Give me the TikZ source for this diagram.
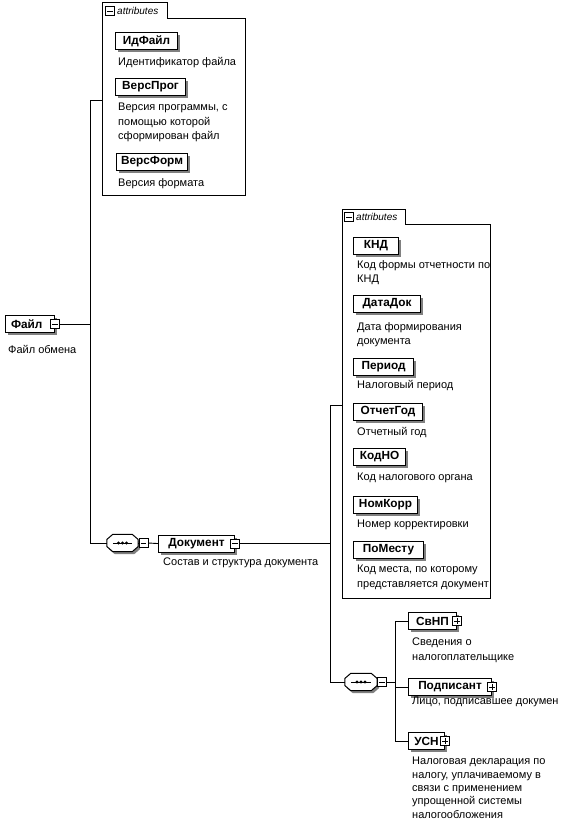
\documentclass[tikz,border=0pt]{standalone}
\usepackage{fontspec}
\setmainfont{Liberation Sans}
\usetikzlibrary{shadows}
\tikzset{
  elem/.style={draw, fill=white, line width=1.1pt,
    font=\fontsize{11.8}{13}\selectfont\bfseries,
    minimum height=17pt, inner xsep=4pt, inner ysep=0pt,
    anchor=north west,
    drop shadow={shadow xshift=2.5pt, shadow yshift=-2.5pt, fill=black!50, opacity=1}},
  desc/.style={font=\fontsize{11}{14.5}\selectfont, anchor=north west, align=left, inner sep=0pt},
  conn/.style={line width=0.9pt},
  boxline/.style={line width=1pt},
  pmbase/.style={draw, fill=white, line width=0.7pt, minimum size=9pt, inner sep=0pt},
  pmminus/.style={pmbase, path picture={\draw[line width=0.7pt]
      ([xshift=1.8pt]path picture bounding box.west) -- ([xshift=-1.8pt]path picture bounding box.east);}},
  pmplus/.style={pmbase, path picture={\draw[line width=0.7pt]
      ([xshift=1.8pt]path picture bounding box.west) -- ([xshift=-1.8pt]path picture bounding box.east)
      ([yshift=1.8pt]path picture bounding box.south) -- ([yshift=-1.8pt]path picture bounding box.north);}},
  tabtext/.style={font=\fontsize{10}{12}\selectfont\itshape, anchor=west, inner sep=0pt},
  seqframe/.style={minimum width=31pt, minimum height=17pt, inner sep=0pt},
  seqline/.style={draw, fill=white, line width=1pt,
    drop shadow={shadow xshift=2pt, shadow yshift=-2.5pt, fill=black!50, opacity=1}},
}
\begin{document}
\begin{tikzpicture}[x=1pt,y=-1pt]
\useasboundingbox (0,0) rectangle (561,824);

% ---------- attributes box 1 ----------
\node[minimum width=143pt, minimum height=176pt, anchor=north west, inner sep=0pt] (attr1) at (102,19) {};
\node[minimum width=65pt, minimum height=16pt, anchor=south west, inner sep=0pt] (tab1) at (attr1.north west) {};
\draw[boxline] (attr1.south west) -- (tab1.north west) -- (tab1.north east) -- (tab1.south east)
  -- (attr1.north east) -- (attr1.south east) -- cycle;
\node[pmminus] (t1sq) at (110,11) {};
\node[tabtext] (t1txt) at (117,11) {attributes};

\node[elem, minimum width=62pt] (idfile) at (115,32) {ИдФайл};
\node[desc] (didfile) at (118,57) {Идентификатор файла};
\node[elem, minimum width=70pt] (versprog) at (115,78) {ВерсПрог};
\node[desc] (dversprog) at (118,103) {Версия программы, с\\помощью которой\\сформирован файл};
\node[elem, minimum width=71pt] (versform) at (116,153) {ВерсФорм};
\node[desc] (dversform) at (118,178) {Версия формата};

% ---------- root ----------
\node[elem, minimum width=49pt, text width=38pt] (fail) at (5,315) {Файл};
\node[pmminus] (failsq) at (fail.east) {};
\node[desc] (dfail) at (8,345) {Файл обмена};

% ---------- sequence 1 and Документ ----------
\node[seqframe] (seq1) at (122.5,543) {};
\draw[seqline] ([yshift=3.5pt]seq1.west) -- ([xshift=6pt]seq1.north west) -- ([xshift=-6pt]seq1.north east)
  -- ([yshift=3.5pt]seq1.east) -- ([yshift=-3.5pt]seq1.east) -- ([xshift=-6pt]seq1.south east)
  -- ([xshift=6pt]seq1.south west) -- ([yshift=-3.5pt]seq1.west) -- cycle;
\draw[line width=0.9pt] ([xshift=6pt]seq1.west) -- ([xshift=-6pt]seq1.east);
\fill (seq1.center) circle (1.6pt) ([xshift=-4pt]seq1.center) circle (1.6pt) ([xshift=4pt]seq1.center) circle (1.6pt);
\node[pmminus] (seq1sq) at (143.5,543) {};

\node[elem, minimum width=76pt] (doc) at (158,534.5) {Документ\hspace{6pt}};
\node[pmminus] (docsq) at (doc.east) {};
\node[desc] (ddoc) at (163,558) {Состав и структура документа};

% ---------- attributes box 2 ----------
\node[minimum width=148pt, minimum height=374pt, anchor=north west, inner sep=0pt] (attr2) at (342,224) {};
\node[minimum width=63pt, minimum height=14pt, anchor=south west, inner sep=0pt] (tab2) at (attr2.north west) {};
\draw[boxline] (attr2.south west) -- (tab2.north west) -- (tab2.north east) -- (tab2.south east)
  -- (attr2.north east) -- (attr2.south east) -- cycle;
\node[pmminus] (t2sq) at (349,217) {};
\node[tabtext] (t2txt) at (356,217) {attributes};

\node[elem, minimum width=45pt] (knd) at (353,237) {КНД};
\node[desc] (dknd) at (357,260) {Код формы отчетности по\\КНД};
\node[elem, minimum width=67pt] (datadok) at (353,295) {ДатаДок};
\node[desc] (ddatadok) at (357,322) {Дата формирования\\документа};
\node[elem, minimum width=60pt] (period) at (353,358) {Период};
\node[desc] (dperiod) at (357,380) {Налоговый период};
\node[elem, minimum width=69pt] (otchgod) at (353,403) {ОтчетГод};
\node[desc] (dotchgod) at (357,427) {Отчетный год};
\node[elem, minimum width=52pt] (kodno) at (353,448) {КодНО};
\node[desc] (dkodno) at (357,473) {Код налогового органа};
\node[elem, minimum width=64pt] (nomkorr) at (353,496) {НомКорр};
\node[desc] (dnomkorr) at (357,520) {Номер корректировки};
\node[elem, minimum width=70pt] (pomestu) at (353,541) {ПоМесту};
\node[desc] (dpomestu) at (357,565) {Код места, по которому\\представляется документ};

% ---------- sequence 2 and children ----------
\node[seqframe, minimum width=32pt] (seq2) at (361,682) {};
\draw[seqline] ([yshift=3.5pt]seq2.west) -- ([xshift=6pt]seq2.north west) -- ([xshift=-6pt]seq2.north east)
  -- ([yshift=3.5pt]seq2.east) -- ([yshift=-3.5pt]seq2.east) -- ([xshift=-6pt]seq2.south east)
  -- ([xshift=6pt]seq2.south west) -- ([yshift=-3.5pt]seq2.west) -- cycle;
\draw[line width=0.9pt] ([xshift=6pt]seq2.west) -- ([xshift=-6pt]seq2.east);
\fill (seq2.center) circle (1.6pt) ([xshift=-4pt]seq2.center) circle (1.6pt) ([xshift=4pt]seq2.center) circle (1.6pt);
\node[pmminus] (seq2sq) at (382,682) {};

\node[elem, minimum width=48pt] (svnp) at (408,612) {СвНП\hspace{6pt}};
\node[pmplus] (svnpsq) at (svnp.east) {};
\node[desc] (dsvnp) at (412,638) {Сведения о\\налогоплательщике};
\node[elem, minimum width=83pt] (podp) at (408,678) {Подписант\hspace{6pt}};
\node[pmplus] (podpsq) at (podp.east) {};
\node[desc] (dpodp) at (412,697) {Лицо, подписавшее докумен};
\node[elem, minimum width=36pt] (usn) at (408,732) {УСН\hspace{5pt}};
\node[pmplus] (usnsq) at (usn.east) {};
\node[desc, font=\fontsize{11}{13.4}\selectfont] (dusn) at (412,757) {Налоговая декларация по\\налогу, уплачиваемому в\\связи с применением\\упрощенной системы\\налогообложения};

% ---------- connectors ----------
\coordinate (b1) at (90,100);
\coordinate (b2) at (330,405);
\coordinate (b3) at (395,620);
\draw[conn] (failsq.east) -- (failsq.east -| b1);
\draw[conn] (attr1.west |- b1) -- (b1) -- (b1 |- seq1) -- (seq1.west);
\draw[conn] (seq1.east) -- (seq1sq.west);
\draw[conn] (seq1sq.east) -- (doc.west);
\draw[conn] (docsq.east) -- (docsq.east -| b2);
\draw[conn] (attr2.west |- b2) -- (b2) -- (b2 |- seq2) -- (seq2.west);
\draw[conn] (seq2.east) -- (seq2sq.west);
\draw[conn] (seq2sq.east) -- (seq2sq.east -| b3);
\draw[conn] (svnp.west) -- (svnp.west -| b3) -- (usn.west -| b3) -- (usn.west);
\draw[conn] (podp.west -| b3) -- (podp.west);
\end{tikzpicture}
\end{document}
